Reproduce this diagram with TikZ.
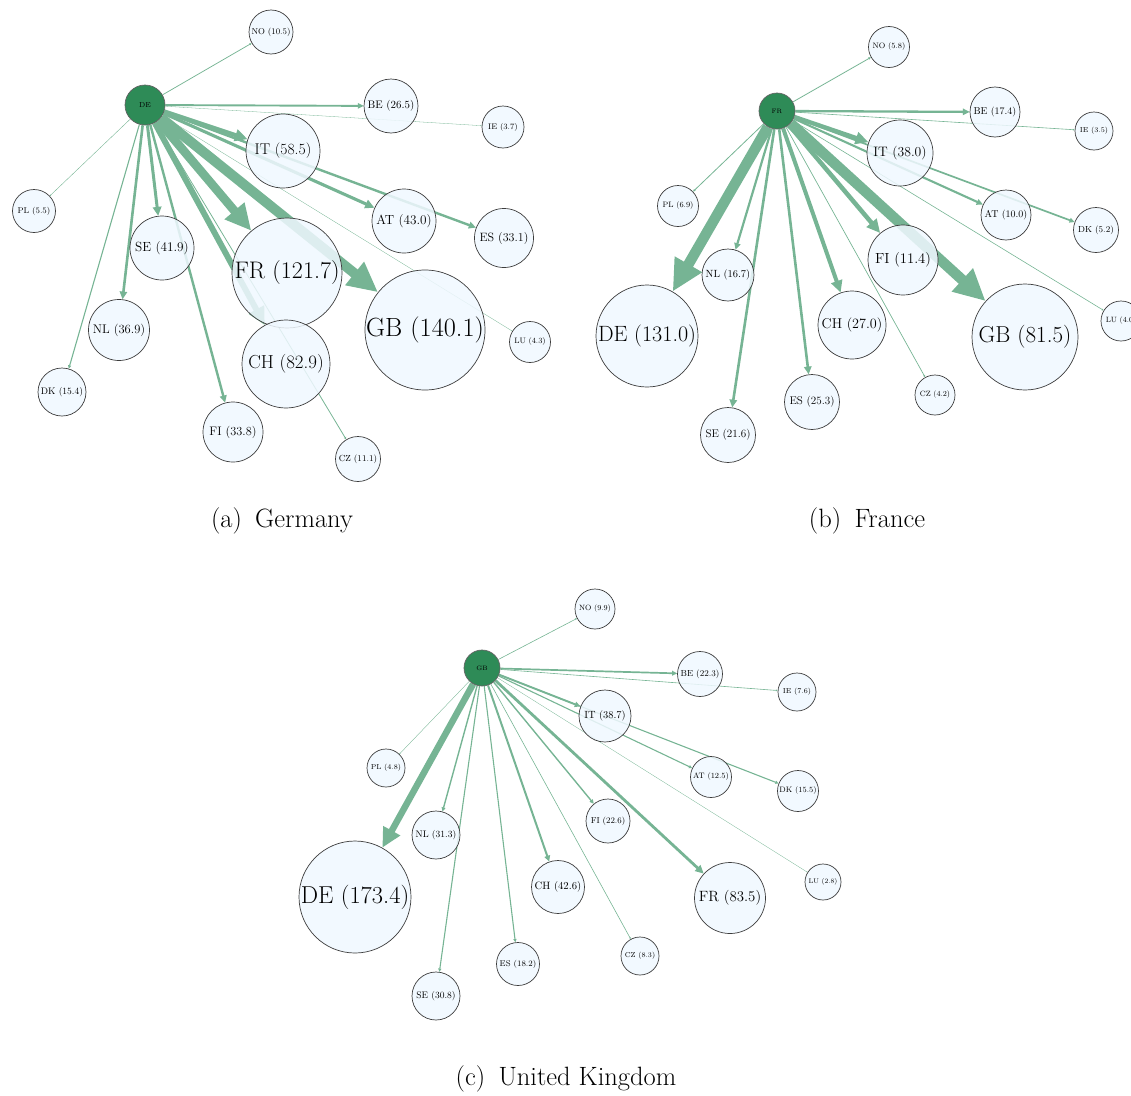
\documentclass[tikz,border=0pt]{standalone}
\usetikzlibrary{arrows.meta}
\definecolor{edgec}{RGB}{118,180,148}
\definecolor{hubc}{RGB}{46,139,87}
\definecolor{nfill}{RGB}{240,248,255}
\definecolor{nline}{RGB}{60,60,60}
\pgfdeclarelayer{bg}
\pgfsetlayers{bg,main}
\tikzset{
  cnode/.style={circle, draw=nline, line width=0.7pt, fill=nfill, fill opacity=0.85, inner sep=0pt},
  hubnode/.style={circle, draw=nline!80, line width=0.7pt, fill=hubc, inner sep=0pt},
  lab/.style={inner sep=0pt, text=black},
  ed/.style={draw=edgec, line width=#1pt, -{Triangle[length=0pt 3, width=0pt 2.8]}},
  captext/.style={font=\fontsize{26.5}{31}\selectfont}
}
\newcommand\cnode[5]{%
  \pgfmathsetmacro\fsz{0.467*#4-1.7}%
  \node[cnode, minimum size=#4*2pt] (#1) at (#2,#3) {};
  \node[lab, font=\fontsize{\fsz}{\fsz}\selectfont] (#1t) at (#1) {#5};%
}
\newcommand\hnode[5]{%
  \pgfmathsetmacro\fsz{0.42*#4-1.2}%
  \node[hubnode, minimum size=#4*2pt] (#1) at (#2,#3) {};
  \node[lab, font=\fontsize{\fsz}{\fsz}\selectfont] (#1t) at (#1) {#5};%
}
\begin{document}
\begin{tikzpicture}[x=1pt,y=-1pt]
\useasboundingbox (0,0) rectangle (1131,1095);
\clip (0,0) rectangle (1131,1095);

% ---------- (a) Germany ----------
\hnode{aDE}{145}{105}{20}{DE}
\cnode{aNO}{271}{32}{22}{NO (10.5)}
\cnode{aBE}{391}{106}{27}{BE (26.5)}
\cnode{aIE}{503}{127}{21}{IE (3.7)}
\cnode{aIT}{283}{151}{37}{IT (58.5)}
\cnode{aPL}{34}{211}{21.5}{PL (5.5)}
\cnode{aSE}{162}{248}{32}{SE (41.9)}
\cnode{aAT}{404}{221}{32}{AT (43.0)}
\cnode{aES}{504}{238}{29.5}{ES (33.1)}
\cnode{aFR}{287}{273}{55}{FR (121.7)}
\cnode{aGB}{425}{330}{60}{GB (140.1)}
\cnode{aNL}{119}{330}{30.5}{NL (36.9)}
\cnode{aLU}{530}{342}{20.5}{LU (4.3)}
\cnode{aCH}{286}{364}{44}{CH (82.9)}
\cnode{aDK}{62}{392}{24}{DK (15.4)}
\cnode{aFI}{233}{432}{30}{FI (33.8)}
\cnode{aCZ}{358}{459}{22.5}{CZ (11.1)}

% ---------- (b) France ----------
\hnode{bFR}{777}{111}{18}{FR}
\cnode{bNO}{889}{47}{20.5}{NO (5.8)}
\cnode{bBE}{995}{112}{25}{BE (17.4)}
\cnode{bIE}{1094}{131}{19}{IE (3.5)}
\cnode{bIT}{900}{153}{33}{IT (38.0)}
\cnode{bPL}{678}{206}{20.5}{PL (6.9)}
\cnode{bAT}{1006}{215}{25}{AT (10.0)}
\cnode{bDK}{1096}{230}{22.5}{DK (5.2)}
\cnode{bFI}{903}{260}{35}{FI (11.4)}
\cnode{bNL}{728}{275}{26}{NL (16.7)}
\cnode{bCH}{852}{325}{34}{CH (27.0)}
\cnode{bDE}{647}{336}{51}{DE (131.0)}
\cnode{bGB}{1025}{337}{53}{GB (81.5)}
\cnode{bLU}{1121}{321}{20}{LU (4.0)}
\cnode{bCZ}{935}{395}{20}{CZ (4.2)}
\cnode{bES}{812}{402}{27.5}{ES (25.3)}
\cnode{bSE}{728}{435}{27.5}{SE (21.6)}

% ---------- (c) United Kingdom ----------
\hnode{cGB}{482}{668}{18}{GB}
\cnode{cNO}{595}{609}{20}{NO (9.9)}
\cnode{cBE}{700}{674}{22.5}{BE (22.3)}
\cnode{cIE}{797}{692}{19}{IE (7.6)}
\cnode{cIT}{605}{716}{26}{IT (38.7)}
\cnode{cPL}{386}{768}{19}{PL (4.8)}
\cnode{cAT}{711}{777}{20.5}{AT (12.5)}
\cnode{cDK}{798}{791}{20.5}{DK (15.5)}
\cnode{cFI}{608}{821}{22}{FI (22.6)}
\cnode{cNL}{436}{835}{24}{NL (31.3)}
\cnode{cCH}{558}{887}{26.5}{CH (42.6)}
\cnode{cDE}{355}{897}{56}{DE (173.4)}
\cnode{cFR}{730}{898}{35.5}{FR (83.5)}
\cnode{cLU}{823}{882}{18}{LU (2.8)}
\cnode{cCZ}{640}{956}{19}{CZ (8.3)}
\cnode{cES}{518}{964}{21.5}{ES (18.2)}
\cnode{cSE}{436}{996}{24}{SE (30.8)}

% ---------- captions ----------
\node[captext] (capA) at (282,521) {(a)\hspace{0.5em}Germany};
\node[captext] (capB) at (867,521) {(b)\hspace{0.5em}France};
\node[captext] (capC) at (566,1079) {(c)\hspace{0.5em}United Kingdom};

% ---------- edges ----------
\begin{pgfonlayer}{bg}
\draw[ed=0.75] (aDE) -- (aNO);
\draw[ed=1.9] (aDE) -- (aBE);
\draw[ed=0.3] (aDE) -- (aIE);
\draw[ed=4.2] (aDE) -- (aIT);
\draw[ed=0.4] (aDE) -- (aPL);
\draw[ed=3.0] (aDE) -- (aSE);
\draw[ed=3.1] (aDE) -- (aAT);
\draw[ed=2.4] (aDE) -- (aES);
\draw[ed=8.7] (aDE) -- (aFR);
\draw[ed=10] (aDE) -- (aGB);
\draw[ed=2.6] (aDE) -- (aNL);
\draw[ed=0.3] (aDE) -- (aLU);
\draw[ed=5.9] (aDE) -- (aCH);
\draw[ed=1.1] (aDE) -- (aDK);
\draw[ed=2.4] (aDE) -- (aFI);
\draw[ed=0.8] (aDE) -- (aCZ);

\draw[ed=10.5] (bFR) -- (bDE);
\draw[ed=10.5] (bFR) -- (bGB);
\draw[ed=4.3] (bFR) -- (bIT);
\draw[ed=4.5] (bFR) -- (bFI);
\draw[ed=4.0] (bFR) -- (bCH);
\draw[ed=2.3] (bFR) -- (bBE);
\draw[ed=2.2] (bFR) -- (bNL);
\draw[ed=2.6] (bFR) -- (bSE);
\draw[ed=2.6] (bFR) -- (bES);
\draw[ed=2.1] (bFR) -- (bAT);
\draw[ed=1.7] (bFR) -- (bDK);
\draw[ed=0.8] (bFR) -- (bNO);
\draw[ed=0.8] (bFR) -- (bPL);
\draw[ed=0.6] (bFR) -- (bIE);
\draw[ed=0.7] (bFR) -- (bCZ);
\draw[ed=0.6] (bFR) -- (bLU);

\draw[ed=6.5] (cGB) -- (cDE);
\draw[ed=2.8] (cGB) -- (cFR);
\draw[ed=1.9] (cGB) -- (cIT);
\draw[ed=1.7] (cGB) -- (cBE);
\draw[ed=2.0] (cGB) -- (cCH);
\draw[ed=1.4] (cGB) -- (cNL);
\draw[ed=1.1] (cGB) -- (cSE);
\draw[ed=1.1] (cGB) -- (cES);
\draw[ed=1.4] (cGB) -- (cFI);
\draw[ed=1.1] (cGB) -- (cAT);
\draw[ed=1.1] (cGB) -- (cDK);
\draw[ed=0.6] (cGB) -- (cCZ);
\draw[ed=0.6] (cGB) -- (cNO);
\draw[ed=0.35] (cGB) -- (cPL);
\draw[ed=0.3] (cGB) -- (cLU);
\draw[ed=0.6] (cGB) -- (cIE);
\end{pgfonlayer}
\end{tikzpicture}
\end{document}
